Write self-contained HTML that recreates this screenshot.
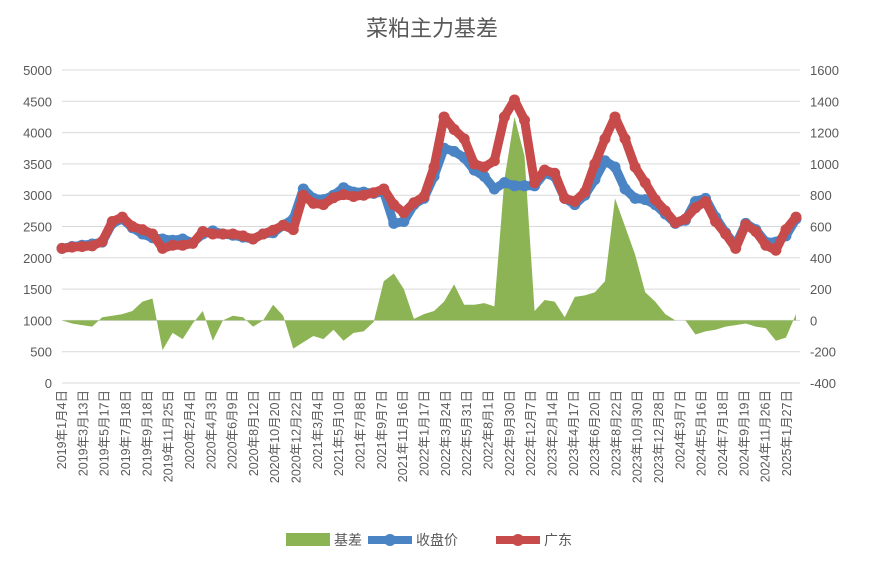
<!DOCTYPE html>
<html><head><meta charset="utf-8"><style>
body{margin:0;background:#fff;font-family:"Liberation Sans","Noto Sans CJK SC",sans-serif}
svg text{font-family:"Liberation Sans","Noto Sans CJK SC",sans-serif}
</style></head><body>
<svg id="chart" width="872" height="559" xmlns="http://www.w3.org/2000/svg">
<text x="432" y="36" text-anchor="middle" font-size="22" fill="#595959">菜粕主力基差</text>
<g id="grid"></g><g id="basisG"></g><g id="closeG"></g><g id="spotG"></g><g id="axes"></g>
<g>
<rect x="286" y="533" width="44" height="13" fill="#8db454"/>
<text x="334" y="545" font-size="14" fill="#595959">基差</text>
<line x1="368" y1="540" x2="412" y2="540" stroke="#4a84c4" stroke-width="8"/>
<circle cx="390" cy="540" r="6" fill="#4a84c4"/>
<text x="416" y="545" font-size="14" fill="#595959">收盘价</text>
<line x1="496" y1="540" x2="540" y2="540" stroke="#c84b4b" stroke-width="8"/>
<circle cx="518" cy="540" r="6" fill="#c84b4b"/>
<text x="544" y="545" font-size="14" fill="#595959">广东</text>
</g>
</svg>
<script>
const closePrice=[2150,2180,2200,2220,2250,2550,2620,2480,2380,2320,2300,2280,2300,2240,2380,2430,2380,2360,2330,2300,2380,2400,2520,2620,3100,2950,2930,3000,3120,3050,3050,3030,3050,2550,2580,2850,2950,3300,3750,3700,3600,3400,3300,3100,3200,3150,3150,3150,3350,3300,2950,2850,3000,3250,3550,3450,3100,2950,2930,2850,2700,2550,2600,2900,2950,2650,2400,2200,2550,2450,2250,2250,2350,2620];
const spotPrice=[2150,2170,2180,2190,2260,2580,2650,2500,2450,2380,2150,2200,2200,2230,2420,2380,2380,2380,2350,2300,2380,2440,2520,2450,3000,2870,2850,2960,3010,2980,3000,3040,3100,2850,2720,2880,2980,3450,4250,4050,3900,3500,3450,3550,4250,4520,4200,3200,3400,3350,2950,2900,3050,3500,3900,4250,3900,3450,3200,2930,2750,2560,2620,2800,2900,2580,2380,2150,2530,2420,2200,2120,2450,2650];
const basis=[0,-20,-30,-40,20,30,40,60,120,140,-190,-80,-120,-20,60,-130,0,30,20,-40,0,100,30,-180,-140,-100,-120,-60,-130,-80,-70,-10,250,300,200,10,40,60,120,230,100,100,110,90,900,1300,1050,60,130,120,20,150,160,180,250,780,600,420,180,120,40,0,0,-90,-70,-60,-40,-30,-20,-40,-50,-130,-110,40];
const leftTicks=[0,500,1000,1500,2000,2500,3000,3500,4000,4500,5000];
const rightTicks=[-400,-200,0,200,400,600,800,1000,1200,1400,1600];
const xLabels=["2019年1月4日","2019年3月13日","2019年5月17日","2019年7月18日","2019年9月18日","2019年11月25日","2020年2月4日","2020年4月3日","2020年6月9日","2020年8月12日","2020年10月20日","2020年12月22日","2021年3月4日","2021年5月10日","2021年7月8日","2021年9月7日","2021年11月16日","2022年1月17日","2022年3月24日","2022年5月31日","2022年8月1日","2022年9月30日","2022年12月7日","2023年2月14日","2023年4月17日","2023年6月20日","2023年8月22日","2023年10月30日","2023年12月28日","2024年3月7日","2024年5月16日","2024年7月18日","2024年9月19日","2024年11月26日","2025年1月27日"];
const NS="http://www.w3.org/2000/svg";
const X0=62,X1=796,YT=70,YB=383;
const yL=v=>YB-(v-0)/5000*(YB-YT);
const yR=v=>YB-(v+400)/2000*(YB-YT);
const xI=i=>X0+i*(X1-X0)/(closePrice.length-1);
function mk(t,a,p){const e=document.createElementNS(NS,t);for(const k in a)e.setAttribute(k,a[k]);p.appendChild(e);return e;}
const grid=document.getElementById('grid'),axes=document.getElementById('axes');
leftTicks.forEach((v,k)=>{
 const l=mk('line',{x1:X0,x2:800,y1:yL(v),y2:yL(v),stroke:'#d9d9d9','stroke-width':1},grid);
 
 
 const t=mk('text',{x:52,y:yL(v)+5,'text-anchor':'end','font-size':13,fill:'#595959'},axes);t.textContent=v;
 
 
 const r=mk('text',{x:810,y:yR(rightTicks[k])+5,'font-size':13,fill:'#595959'},axes);r.textContent=rightTicks[k];
 
 
});
xLabels.forEach((s,k)=>{
 const x=X0+k*(787-X0)/(xLabels.length-1);
 const t=mk('text',{x:0,y:0,'text-anchor':'end','font-size':12.5,fill:'#595959',transform:`translate(${x+4},${390}) rotate(-90)`},axes);t.textContent=s;
 
 
});
// basis area
let d=`M${xI(0)},${yR(0)}`;basis.forEach((v,i)=>d+=` L${xI(i)},${yR(v)}`);d+=` L${xI(basis.length-1)},${yR(0)} Z`;
const a=mk('path',{d:d,fill:'#8db454'},document.getElementById('basisG'));


function series(arr,g,color,name){
 const pts=arr.map((v,i)=>xI(i)+','+yL(v)).join(' ');
 const pl=mk('polyline',{points:pts,fill:'none',stroke:color,'stroke-width':9,'stroke-linejoin':'round','stroke-linecap':'round'},g);
 
 
 arr.forEach((v,i)=>{const c=mk('circle',{cx:xI(i),cy:yL(v),r:5.5,fill:color},g);
  
  });
}
series(closePrice,document.getElementById('closeG'),'#4a84c4','close');
series(spotPrice,document.getElementById('spotG'),'#c84b4b','spot');
</script>
</body></html>
